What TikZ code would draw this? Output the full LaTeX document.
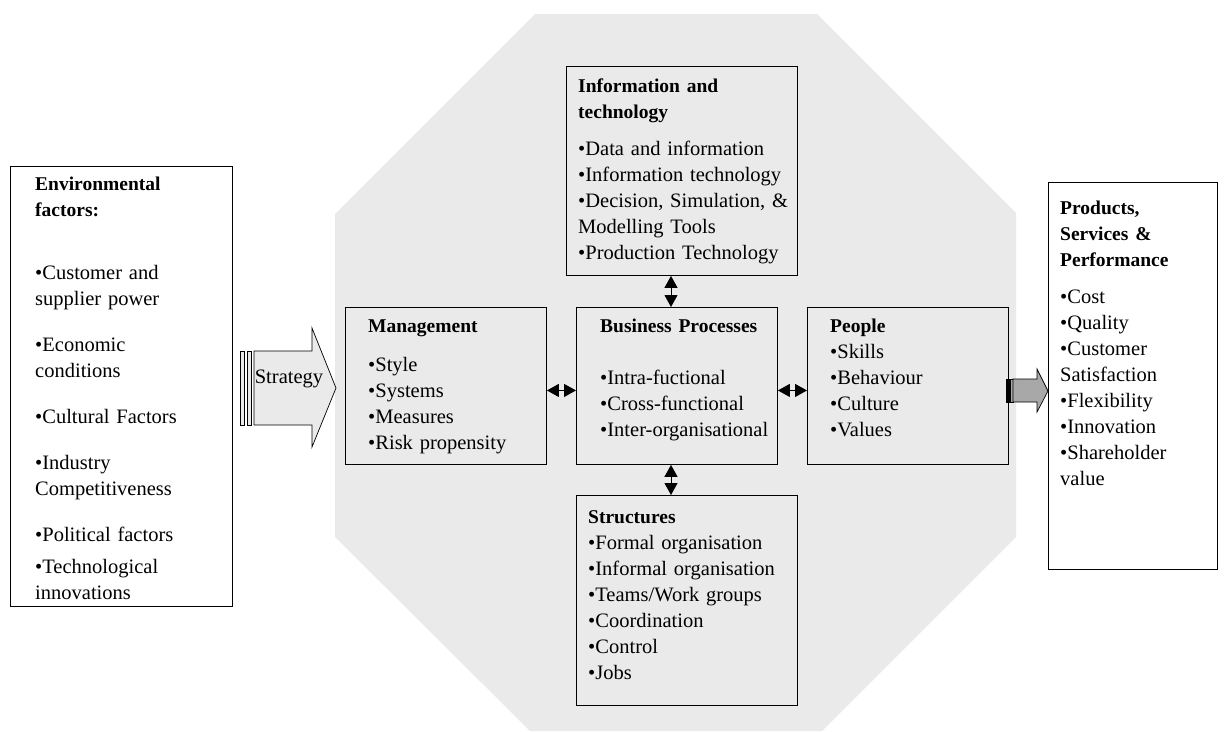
\documentclass[tikz,border=0pt]{standalone}
\usepackage{fontspec}
\setmainfont{Liberation Serif}
\usetikzlibrary{arrows.meta}
\definecolor{octgray}{RGB}{234,234,234}
\definecolor{arrgray}{RGB}{234,234,234}
\definecolor{darkarr}{RGB}{168,168,168}
\newcommand\hd[1]{{\fontsize{19.5}{26}\selectfont\bfseries #1}}
\begin{document}
\begin{tikzpicture}[x=1pt,y=-1pt]
\tikzset{
  box/.style={draw=black, line width=0.9pt, anchor=north west, inner sep=0pt, fill=octgray},
  txt/.style={anchor=base west, align=left, inner sep=0pt, text width=215pt, font=\fontsize{20.5}{26}\selectfont},
  dbl/.style={line width=1pt, arrows={Triangle[length=12pt,width=13pt]-Triangle[length=12pt,width=13pt]}},
  blockarrow/.style={draw=black, line width=0.7pt},
}
\useasboundingbox (0,0) rectangle (1226,731);
% octagon
\fill[octgray] (535,14) -- (817,14) -- (1016,213) -- (1016,537) -- (822,731) -- (530,731) -- (335,537) -- (335,214) -- cycle;

% boxes
\node[box, fill=white, minimum width=222pt, minimum height=440pt] (env) at (10,166) {};
\node[box, minimum width=231pt, minimum height=209pt] (info) at (566,66) {};
\node[box, minimum width=201pt, minimum height=157pt] (mgmt) at (345,307) {};
\node[box, minimum width=201pt, minimum height=157pt] (bp) at (576,307) {};
\node[box, minimum width=201pt, minimum height=157pt] (ppl) at (807,307) {};
\node[box, minimum width=221pt, minimum height=210pt] (str) at (576,495) {};
\node[box, fill=white, minimum width=169pt, minimum height=387pt] (prod) at (1048,182) {};

% texts
\node[txt] (envt) at (35,190) {\hd{Environmental}\\\hd{factors:}\\[37pt]
•Customer and\\supplier power\\[20pt]
•Economic\\conditions\\[20pt]
•Cultural Factors\\[20pt]
•Industry\\Competitiveness\\[20pt]
•Political factors\\[6pt]
•Technological\\innovations};

\node[txt] (infot) at (578,92) {\hd{Information and}\\\hd{technology}\\[11pt]
•Data and information\\•Information technology\\•Decision, Simulation, \&\\Modelling Tools\\•Production Technology};

\node[txt] (mgmtt) at (368,332) {\hd{Management}\\[13pt]
•Style\\•Systems\\•Measures\\•Risk propensity};

\node[txt] (bpt) at (600,332) {\hd{Business Processes}\\[26pt]
•Intra-fuctional\\•Cross-functional\\•Inter-organisational};

\node[txt] (pplt) at (830,332) {\hd{People}\\
•Skills\\•Behaviour\\•Culture\\•Values};

\node[txt] (strt) at (588,523) {\hd{Structures}\\
•Formal organisation\\•Informal organisation\\•Teams/Work groups\\•Coordination\\•Control\\•Jobs};

\node[txt, text width=160pt] (prodt) at (1060,214) {\hd{Products,}\\\hd{Services \&}\\\hd{Performance}\\[11pt]
•Cost\\•Quality\\•Customer\\Satisfaction\\•Flexibility\\•Innovation\\•Shareholder\\value};

% double arrows
\coordinate (vx) at (671,0);
\draw[dbl] ([yshift=-4.5pt]mgmt.east) -- ([yshift=-4.5pt]bp.west);
\draw[dbl] ([yshift=-4.5pt]bp.east) -- ([yshift=-4.5pt]ppl.west);
\draw[dbl] (info.south -| vx) -- (bp.north -| vx);
\draw[dbl] (bp.south -| vx) -- (str.north -| vx);

% strategy arrow
\filldraw[blockarrow, fill=arrgray] (240,351) rectangle (244,425);
\filldraw[blockarrow, fill=arrgray] (247,351) rectangle (251,425);
\filldraw[blockarrow, fill=arrgray] (254,351) -- (312,351) -- (312,328) -- (336,388) -- (312,447) -- (312,425) -- (254,425) -- cycle;
\node[anchor=base, inner sep=0pt, font=\fontsize{20.5}{26}\selectfont] (strat) at (289,383) {Strategy};

% output arrow
\filldraw[blockarrow, fill=black] (1006,379) rectangle (1010,402);
\filldraw[blockarrow, fill=darkarr] (1010,379) rectangle (1013,402);
\filldraw[blockarrow, fill=darkarr] (1013,379) -- (1037,379) -- (1037,369) -- (1048,391) -- (1037,412) -- (1037,402) -- (1013,402) -- cycle;
\end{tikzpicture}
\end{document}
